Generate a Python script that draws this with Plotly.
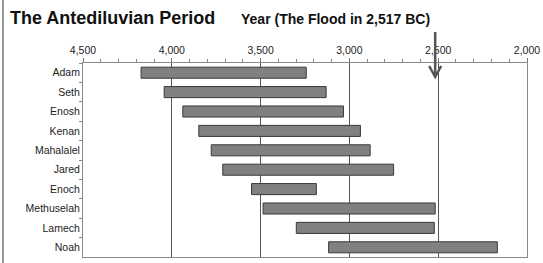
import plotly.graph_objects as go

names = ["Adam", "Seth", "Enosh", "Kenan", "Mahalalel", "Jared", "Enoch",
         "Methuselah", "Lamech", "Noah"]
born = [4173, 4043, 3938, 3848, 3778, 3713, 3551, 3486, 3299, 3117]
died = [3243, 3131, 3033, 2938, 2883, 2751, 3186, 2517, 2522, 2167]
flood_year = 2517
x_ticks = [4500, 4000, 3500, 3000, 2500, 2000]
x_tick_text = ["4,500", "4,000", "3,500", "3,000", "2,500", "2,000"]

W, H = 543, 263
L, R, T, B = 83, 16, 63, 6
pw = W - L - R

fig = go.Figure()
fig.add_trace(go.Bar(
    y=names,
    x=[b - d for b, d in zip(born, died)],
    base=died,
    orientation="h",
    marker=dict(color="#808080", line=dict(color="#3a3a3a", width=1)),
    width=0.57,
    hoverinfo="skip",
))

font = "Liberation Sans, Arial, sans-serif"
fig.update_layout(
    width=W, height=H,
    margin=dict(l=L, r=R, t=T, b=B),
    paper_bgcolor="white", plot_bgcolor="white",
    showlegend=False,
    font=dict(family=font, color="#222"),
    xaxis=dict(
        side="top", range=[4500, 2000], autorange=False,
        tickvals=x_ticks, ticktext=x_tick_text,
        tickfont=dict(size=10.5, color="#222"),
        ticks="outside", ticklen=4, tickcolor="#777",
        minor=dict(dtick=100, ticks="outside", ticklen=3, tickcolor="#888", showgrid=False),
        showgrid=True, gridcolor="#555", gridwidth=1,
        showline=True, linecolor="#8a8a8a", linewidth=1, mirror=True,
        zeroline=False, automargin=False,
    ),
    yaxis=dict(
        autorange="reversed",
        tickfont=dict(size=10.5, color="#222"),
        ticks="outside", ticklen=3, tickcolor="#888", tickson="boundaries",
        showgrid=False,
        showline=True, linecolor="#8a8a8a", linewidth=1, mirror=True,
        automargin=False,
    ),
)

# titles
fig.add_annotation(text="<b>The Antediluvian Period</b>", xref="paper", yref="paper",
                   x=(8 - L) / pw, y=1 + (T - 18) / (H - T - B), xanchor="left", yanchor="middle",
                   showarrow=False, font=dict(size=18, color="#111", family=font))
fig.add_annotation(text="<b>Year (The Flood in 2,517 BC)</b>", xref="paper", yref="paper",
                   x=(239 - L) / pw, y=1 + (T - 19) / (H - T - B), xanchor="left", yanchor="middle",
                   showarrow=False, font=dict(size=14, color="#111", family=font))

# flood arrow (anchored at the flood year)
fig.add_shape(type="path", xref="x", yref="paper",
              xsizemode="pixel", ysizemode="pixel",
              xanchor=flood_year, yanchor=1,
              path="M0,31 L0,-14 M-6,-3 L0,-14 L6,-3",
              line=dict(color="#555", width=2.5), layer="above")

# left page border
fig.add_shape(type="line", xref="paper", yref="paper",
              x0=(3 - L) / pw, x1=(3 - L) / pw, y0=-B / (H - T - B), y1=1 + T / (H - T - B),
              line=dict(color="#999", width=2))

fig.write_html("out.html",
               config={"displayModeBar": False},
               post_script="document.body.style.margin='0';document.body.style.padding='0';")
